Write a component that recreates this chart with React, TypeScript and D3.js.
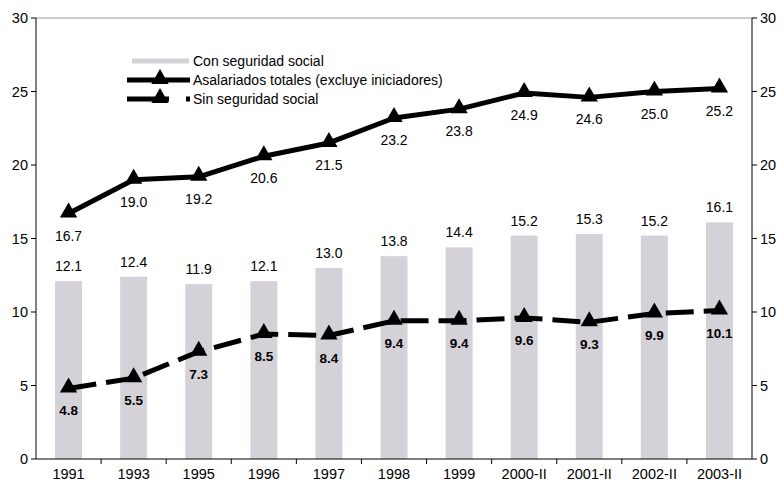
import React from "react";
import * as d3 from "d3";

const categories = ["1991","1993","1995","1996","1997","1998","1999","2000-II","2001-II","2002-II","2003-II"];
const conSeguridad = [12.1,12.4,11.9,12.1,13.0,13.8,14.4,15.2,15.3,15.2,16.1];
const totales = [16.7,19.0,19.2,20.6,21.5,23.2,23.8,24.9,24.6,25.0,25.2];
const sinSeguridad = [4.8,5.5,7.3,8.5,8.4,9.4,9.4,9.6,9.3,9.9,10.1];
const yTicks = [0,5,10,15,20,25,30];

const W = 781, H = 484;
const left = 36, right = 752, top = 18, bottom = 459;
const font = "'Liberation Sans', Arial, sans-serif";

export default function App() {
  const x = d3.scaleBand<string>().domain(categories).range([left, right]).paddingInner(0).paddingOuter(0);
  const y = d3.scaleLinear().domain([0, 30]).range([bottom, top]);
  const cx = (c: string) => (x(c) as number) + x.bandwidth() / 2;
  const barW = 27;
  const line = d3.line<number>().x((_, i) => cx(categories[i])).y(d => y(d));
  const tri = d3.symbol().type(d3.symbolTriangle).size(130)() as string;

  return (
    <svg width={W} height={H} style={{ position: "absolute", left: 0, top: 0 }} fontFamily={font}>
      <rect width={W} height={H} fill="#fff" />
      {conSeguridad.map((v, i) => (
        <rect key={i} x={cx(categories[i]) - barW / 2} y={y(v)} width={barW} height={bottom - y(v)} fill="#d4d2d8" />
      ))}
      <line x1={left} x2={right} y1={top} y2={top} stroke="#999" strokeWidth={1} />
      <line x1={left} x2={left} y1={top} y2={bottom} stroke="#000" strokeWidth={1} />
      <line x1={right} x2={right} y1={top} y2={bottom} stroke="#000" strokeWidth={1} />
      <line x1={left} x2={right} y1={bottom} y2={bottom} stroke="#000" strokeWidth={1} />
      {yTicks.map(t => (
        <g key={t}>
          <line x1={left - 5} x2={left} y1={y(t)} y2={y(t)} stroke="#000" />
          <line x1={right} x2={right + 5} y1={y(t)} y2={y(t)} stroke="#000" />
          <text x={left - 8} y={y(t) + 5} textAnchor="end" fontSize={14.5}>{t}</text>
          <text x={right + 8} y={y(t) + 5} textAnchor="start" fontSize={14.5}>{t}</text>
        </g>
      ))}
      {categories.map((c, i) => (
        <g key={c}>
          {i > 0 && <line x1={x(c)} x2={x(c)} y1={bottom} y2={bottom + 5} stroke="#000" />}
          <text x={cx(c)} y={bottom + 20} textAnchor="middle" fontSize={14.5}>{c}</text>
        </g>
      ))}
      <path d={line(totales) as string} fill="none" stroke="#000" strokeWidth={5} strokeLinejoin="round" />
      <path d={line(sinSeguridad) as string} fill="none" stroke="#000" strokeWidth={5} strokeDasharray="28,10" />
      {totales.map((v, i) => (
        <path key={"t" + i} d={tri} transform={`translate(${cx(categories[i])},${y(v) - 1})`} fill="#000" />
      ))}
      {sinSeguridad.map((v, i) => (
        <path key={"s" + i} d={tri} transform={`translate(${cx(categories[i])},${y(v) - 1})`} fill="#000" />
      ))}
      {conSeguridad.map((v, i) => (
        <text key={"cl" + i} x={cx(categories[i])} y={y(v) - 10} textAnchor="middle" fontSize={14}>{v.toFixed(1)}</text>
      ))}
      {totales.map((v, i) => (
        <text key={"tl" + i} x={cx(categories[i])} y={y(v) + 27} textAnchor="middle" fontSize={14}>{v.toFixed(1)}</text>
      ))}
      {sinSeguridad.map((v, i) => (
        <text key={"sl" + i} x={cx(categories[i])} y={y(v) + 27} textAnchor="middle" fontSize={13.5} fontWeight="bold">{v.toFixed(1)}</text>
      ))}
      <line x1={132} x2={189} y1={61} y2={61} stroke="#d4d2d8" strokeWidth={5} />
      <text x={193} y={66} fontSize={14}>Con seguridad social</text>
      <line x1={127} x2={190} y1={80} y2={80} stroke="#000" strokeWidth={5} />
      <path d={tri} transform="translate(160,79)" fill="#000" />
      <text x={193} y={85} fontSize={14}>Asalariados totales (excluye iniciadores)</text>
      <line x1={127} x2={169} y1={99} y2={99} stroke="#000" strokeWidth={5} />
      <line x1={186} x2={190} y1={99} y2={99} stroke="#000" strokeWidth={5} />
      <path d={tri} transform="translate(160,98)" fill="#000" />
      <text x={193} y={104} fontSize={14}>Sin seguridad social</text>
    </svg>
  );
}
